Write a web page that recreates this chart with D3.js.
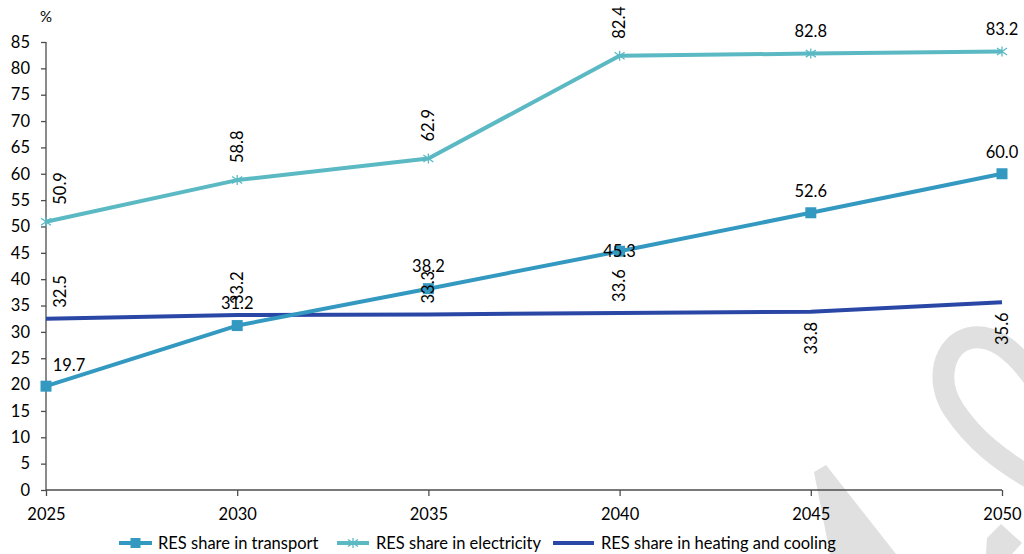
<!DOCTYPE html>
<html>
<head>
<meta charset="utf-8">
<script src="https://cdn.jsdelivr.net/npm/d3@7"></script>
<style>
  html, body { margin: 0; padding: 0; background: #fff; }
  svg { display: block; font-family: Lato, "Open Sans", sans-serif; }
</style>
</head>
<body>
<svg id="chart" width="1024" height="554"></svg>
<script>
// Years on the horizontal axis
const years = [2025, 2030, 2035, 2040, 2045, 2050];

// RES shares (%)
const transport   = [19.7, 31.2, 38.2, 45.3, 52.6, 60.0];
const electricity = [50.9, 58.8, 62.9, 82.4, 82.8, 83.2];
const heating     = [32.5, 33.2, 33.3, 33.6, 33.8, 35.6];

const seriesNames = ["RES share in transport", "RES share in electricity", "RES share in heating and cooling"];
const yTicks = d3.range(0, 86, 5);

// How each value label sits relative to its point
const transportLabelPos   = ["right", "above", "above", "center", "above", "above"];
const electricityLabelPos = ["vUpIn", "vUp", "vUp", "vUp", "above", "above"];
const heatingLabelPos     = ["vUpInLow", "vUpLow", "vUpLow", "vUpLow", "vDown", "vDown"];

const colors = { transport: "#3399c1", electricity: "#5bb9c3", heating: "#2b47a6" };
const fontSize = 16.5;

const svg = d3.select("#chart");

// faint watermark in the lower right corner
const wm = svg.append("g").attr("fill", "none").attr("stroke", "#e0e0e0");
wm.append("path")
  .attr("d", "M1034,378 C1012,348 992,334 970,338 C944,344 934,380 954,410 C974,440 1000,460 1034,480")
  .attr("stroke-width", 22);
svg.append("path").attr("fill", "#e0e0e0")
  .attr("d", "M814,472 L826,465 L896,554 L830,554 Z");
svg.append("path").attr("fill", "#e0e0e0")
  .attr("d", "M1001,524 L1022,543 L1012,554 L986,554 L987,538 Z");

const x = d3.scaleLinear().domain([2025, 2050]).range([46, 1002]);
const y = d3.scaleLinear().domain([0, 85]).range([490, 42]);

const axisColor = "#4d4d4d";

// y axis
const gy = svg.append("g")
  .attr("transform", "translate(46,0)")
  .call(d3.axisLeft(y).tickValues(yTicks).tickSize(5).tickPadding(11).tickFormat(d3.format("d")));
gy.select(".domain").attr("stroke", axisColor).attr("stroke-width", 1.3).attr("d", `M0,${y(0)}V${y(85)}`);
gy.selectAll(".tick line").attr("stroke", axisColor).attr("stroke-width", 1.3);
gy.selectAll(".tick text").attr("font-size", fontSize).attr("fill", "#000").attr("font-family", "Lato, sans-serif");

// x axis
const gx = svg.append("g")
  .attr("transform", `translate(0,${y(0)})`)
  .call(d3.axisBottom(x).tickValues(years).tickSize(6).tickPadding(12).tickFormat(d3.format("d")));
gx.select(".domain").attr("stroke", axisColor).attr("stroke-width", 1.3).attr("d", `M${x(2025)},0H${x(2050)}`);
gx.selectAll(".tick line").attr("stroke", axisColor).attr("stroke-width", 1.3);
gx.selectAll(".tick text").attr("font-size", fontSize).attr("fill", "#000").attr("font-family", "Lato, sans-serif");

// unit label
svg.append("text").attr("x", 46).attr("y", 17).attr("dy", "0.35em")
  .attr("text-anchor", "middle").attr("font-size", 15).text("%");

const line = d3.line().x((d, i) => x(years[i])).y(d => y(d));

function drawSeries(values, color) {
  svg.append("path").datum(values)
    .attr("fill", "none").attr("stroke", color).attr("stroke-width", 4)
    .attr("stroke-linejoin", "round").attr("d", line);
}

drawSeries(heating, colors.heating);
drawSeries(transport, colors.transport);
drawSeries(electricity, colors.electricity);

function squareMarker(g, cx, cy, color, s) {
  g.append("rect").attr("x", cx - s / 2).attr("y", cy - s / 2)
    .attr("width", s).attr("height", s).attr("fill", color);
}
function starMarker(g, cx, cy, color, r) {
  const p = d3.path();
  p.moveTo(cx, cy - r); p.lineTo(cx, cy + r);
  p.moveTo(cx - r, cy - r * 0.7); p.lineTo(cx + r, cy + r * 0.7);
  p.moveTo(cx - r, cy + r * 0.7); p.lineTo(cx + r, cy - r * 0.7);
  g.append("path").attr("d", p.toString()).attr("stroke", color).attr("stroke-width", 1.3).attr("fill", "none");
}

const markers = svg.append("g");
transport.forEach((v, i) => squareMarker(markers, x(years[i]), y(v), colors.transport, 11));
electricity.forEach((v, i) => starMarker(markers, x(years[i]), y(v), colors.electricity, 5));

// value labels
const labels = svg.append("g").attr("font-size", fontSize).attr("fill", "#000");
function addLabels(values, positions) {
  values.forEach((v, i) => {
    const px = x(years[i]), py = y(v);
    const txt = v.toFixed(1);
    const pos = positions[i];
    const t = labels.append("text").text(txt);
    if (pos === "above") {
      t.attr("x", px).attr("y", py - 22).attr("dy", "0.35em").attr("text-anchor", "middle");
    } else if (pos === "right") {
      t.attr("x", px + 23).attr("y", py - 21).attr("dy", "0.35em").attr("text-anchor", "middle");
    } else if (pos === "center") {
      t.attr("x", px).attr("y", py).attr("dy", "0.35em").attr("text-anchor", "middle");
    } else {
      const shift = pos.includes("In") ? 14 : 0;
      const gap = pos.includes("Low") ? 11 : (pos === "vDown" ? 10 : 17);
      if (pos === "vDown") {
        t.attr("text-anchor", "end")
          .attr("transform", `translate(${px + shift},${py + gap}) rotate(-90)`)
          .attr("dy", "0.35em");
      } else {
        t.attr("text-anchor", "start")
          .attr("transform", `translate(${px + shift},${py - gap}) rotate(-90)`)
          .attr("dy", "0.35em");
      }
    }
  });
}
addLabels(heating, heatingLabelPos);
addLabels(electricity, electricityLabelPos);
addLabels(transport, transportLabelPos);

// legend
const legendY = 543;
const legendItems = [
  { name: seriesNames[0], color: colors.transport, x0: 119, x1: 152, tx: 158, marker: "square" },
  { name: seriesNames[1], color: colors.electricity, x0: 337, x1: 369, tx: 376, marker: "star" },
  { name: seriesNames[2], color: colors.heating, x0: 553, x1: 594, tx: 601, marker: null }
];
const lg = svg.append("g");
legendItems.forEach(it => {
  lg.append("line").attr("x1", it.x0).attr("x2", it.x1).attr("y1", legendY).attr("y2", legendY)
    .attr("stroke", it.color).attr("stroke-width", 4);
  const cx = (it.x0 + it.x1) / 2;
  if (it.marker === "square") squareMarker(lg, cx, legendY, it.color, 10);
  if (it.marker === "star") starMarker(lg, cx, legendY, it.color, 5);
  lg.append("text").attr("x", it.tx).attr("y", legendY).attr("dy", "0.35em")
    .attr("font-size", fontSize).attr("fill", "#000").text(it.name);
});
</script>
</body>
</html>
